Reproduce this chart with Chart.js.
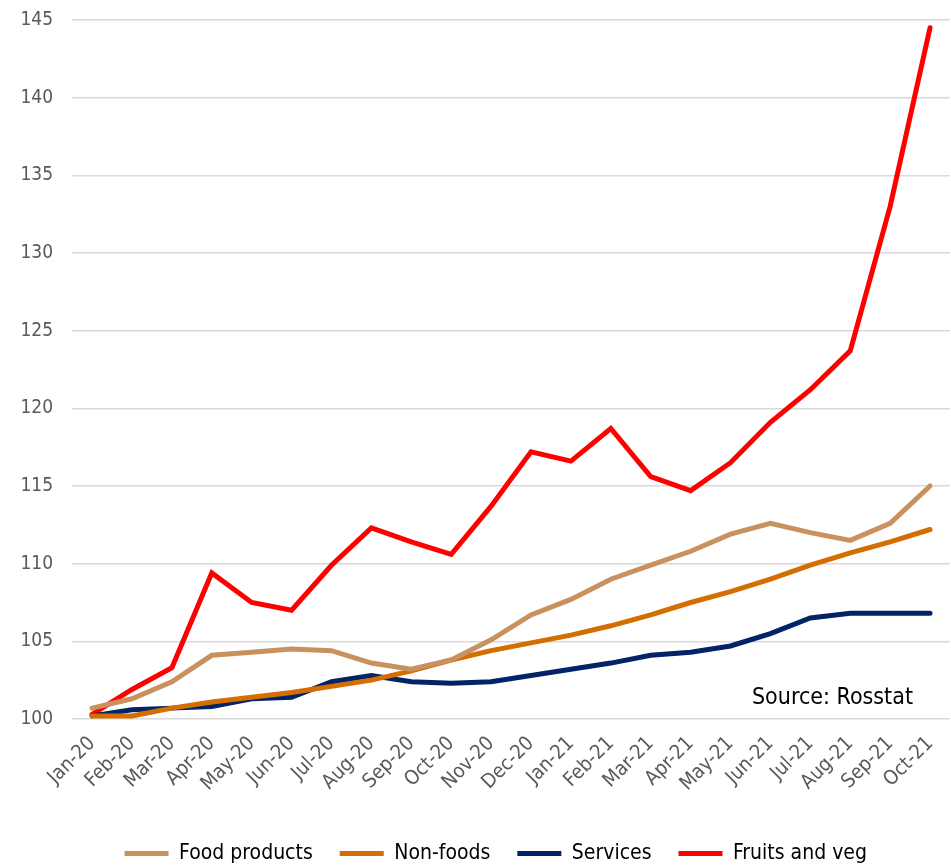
<!DOCTYPE html>
<html>
<head>
<meta charset="utf-8">
<script src="https://cdn.jsdelivr.net/npm/chart.js@4.4.1/dist/chart.umd.min.js"></script>
<style>
  html, body { margin: 0; padding: 0; background: #ffffff; }
  #wrap { width: 951px; height: 867px; position: relative; }
</style>
</head>
<body>
<div id="wrap"><canvas id="c" width="951" height="867"></canvas></div>
<script>
const categories = ["Jan-20","Feb-20","Mar-20","Apr-20","May-20","Jun-20","Jul-20","Aug-20","Sep-20","Oct-20","Nov-20","Dec-20",
                    "Jan-21","Feb-21","Mar-21","Apr-21","May-21","Jun-21","Jul-21","Aug-21","Sep-21","Oct-21"];
const foodProducts = [100.7,101.3,102.4,104.1,104.3,104.5,104.4,103.6,103.2,103.8,105.1,106.7,
                      107.7,109.0,109.9,110.8,111.9,112.6,112.0,111.5,112.6,115.0];
const nonFoods     = [100.2,100.2,100.7,101.1,101.4,101.7,102.1,102.5,103.1,103.8,104.4,104.9,
                      105.4,106.0,106.7,107.5,108.2,109.0,109.9,110.7,111.4,112.2];
const services     = [100.2,100.6,100.7,100.8,101.3,101.4,102.4,102.8,102.4,102.3,102.4,102.8,
                      103.2,103.6,104.1,104.3,104.7,105.5,106.5,106.8,106.8,106.8];
const fruitsVeg    = [100.3,101.9,103.3,109.4,107.5,107.0,109.9,112.3,111.4,110.6,113.7,117.2,
                      116.6,118.7,115.6,114.7,116.5,119.1,121.2,123.7,133.0,144.5];
const seriesNames = ["Food products","Non-foods","Services","Fruits and veg"];
const yTicks = { min: 100, max: 145, step: 5 };
const sourceText = "Source: Rosstat";

const FONT = "'DejaVu Sans Condensed', 'DejaVu Sans', sans-serif";
const colors = ["#C8915E", "#D46E00", "#022366", "#FF0000"];

const sourcePlugin = {
  id: 'sourceText',
  afterLayout(chart) {
    // nudge the legend block to the right, as in the original
    if (chart.legend) { chart.legend.left += 20; chart.legend.right += 20; }
  },
  afterDatasetsDraw(chart) {
    const { ctx, chartArea } = chart;
    ctx.save();
    ctx.font = "23px " + FONT;
    ctx.fillStyle = "#000000";
    ctx.textAlign = "right";
    ctx.textBaseline = "alphabetic";
    ctx.fillText(sourceText, chartArea.right - 37, chartArea.bottom - 15);
    ctx.restore();
  }
};

const data = [foodProducts, nonFoods, services, fruitsVeg];
new Chart(document.getElementById('c'), {
  type: 'line',
  data: {
    labels: categories,
    datasets: data.map((d, i) => ({
      label: seriesNames[i],
      data: d,
      borderColor: colors[i],
      backgroundColor: colors[i],
      borderWidth: 5,
      pointRadius: 0,
      tension: 0,
      borderCapStyle: 'round',
      borderJoinStyle: 'miter',
      fill: false
    }))
  },
  options: {
    responsive: false,
    animation: false,
    devicePixelRatio: 1,
    layout: { padding: { left: 1.5, right: 1, top: 20, bottom: -7 } },
    plugins: {
      legend: {
        position: 'bottom',
        labels: {
          font: { family: FONT, size: 21 },
          color: '#595959',
          boxWidth: 44,
          boxHeight: 5,
          padding: 27,
          generateLabels(chart) {
            return chart.data.datasets.map((ds, i) => ({
              text: ds.label,
              fillStyle: ds.borderColor,
              strokeStyle: ds.borderColor,
              lineWidth: 0,
              datasetIndex: i
            }));
          }
        }
      },
      tooltip: { enabled: false }
    },
    scales: {
      x: {
        offset: true,
        grid: { display: false, drawTicks: false },
        border: { display: false },
        afterFit(scale) { scale.paddingLeft = 0; scale.paddingRight = 0; scale.height = 97; },
        ticks: {
          font: { family: FONT, size: 20 },
          color: '#595959',
          maxRotation: 45,
          minRotation: 45,
          autoSkip: false,
          padding: 13
        }
      },
      y: {
        min: yTicks.min,
        max: yTicks.max,
        grid: { color: '#d9d9d9', lineWidth: 1.5, drawTicks: false },
        border: { display: false },
        afterFit(scale) { scale.paddingTop = 0; scale.paddingBottom = 0; },
        ticks: {
          stepSize: yTicks.step,
          font: { family: FONT, size: 19 },
          color: '#595959',
          padding: 19
        }
      }
    }
  },
  plugins: [sourcePlugin]
});
</script>
</body>
</html>
